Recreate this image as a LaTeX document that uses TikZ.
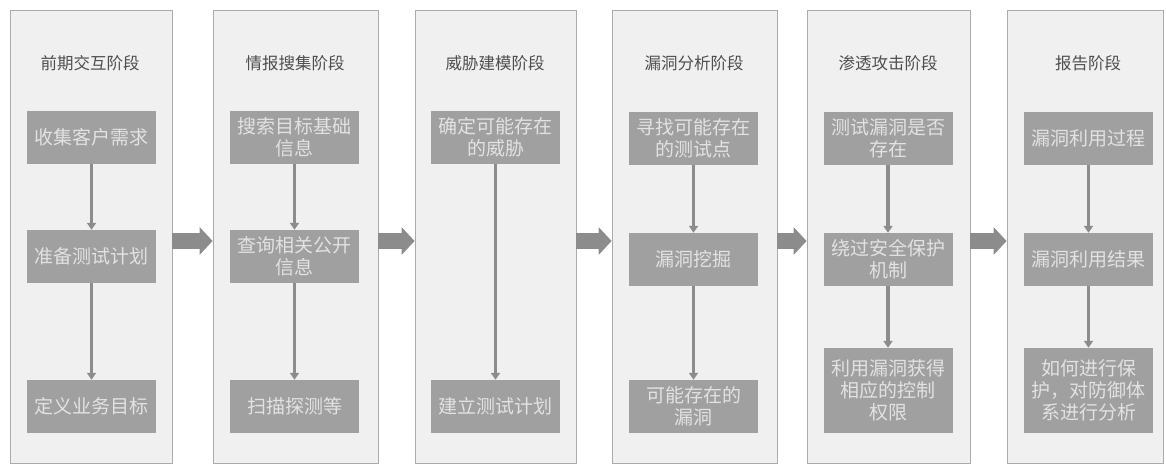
\documentclass[tikz,border=0pt]{standalone}
\usepackage{fontspec}
\newfontfamily\cjk{Noto Sans CJK SC}
\usetikzlibrary{arrows.meta}
\definecolor{panelfill}{HTML}{F0F0F0}
\definecolor{panelline}{HTML}{ABABAB}
\definecolor{boxfill}{HTML}{A0A0A0}
\definecolor{boxtext}{HTML}{E2E2E2}
\definecolor{titletext}{HTML}{4E4E4E}
\definecolor{arrowgray}{HTML}{8C8C8C}
\begin{document}
\begin{tikzpicture}[x=1pt,y=-1pt,
  panel/.style={draw=panelline,fill=panelfill,line width=0.8pt,minimum height=453pt,inner sep=0pt},
  stagetitle/.style={text=titletext,font=\cjk\fontsize{16.5}{18}\selectfont,inner sep=0pt},
  stepbox/.style={fill=boxfill,text=boxtext,font=\cjk\fontsize{19}{22}\selectfont,align=center,minimum width=129pt,minimum height=53pt,inner sep=0pt},
  tallbox/.style={stepbox,minimum height=85pt},
  smallarrow/.style={draw=arrowgray,line width=3.5pt,-{Triangle[width=9pt,length=7pt]}},
  bigarrow/.style={draw=arrowgray,line width=16pt,-{Triangle[width=27pt,length=13pt]}}
]
\useasboundingbox[fill=white] (0,0) rectangle (1166,467);
% panels
\node[panel,minimum width=162pt] (p1) at (91,236.5) {};
\node[panel,minimum width=165pt] (p2) at (295.5,236.5) {};
\node[panel,minimum width=161pt] (p3) at (495.5,236.5) {};
\node[panel,minimum width=165pt] (p4) at (694.5,236.5) {};
\node[panel,minimum width=163pt] (p5) at (888.5,236.5) {};
\node[panel,minimum width=156pt] (p6) at (1085,236.5) {};
% titles
\node[stagetitle] (t1) at (90,63) {前期交互阶段};
\node[stagetitle] (t2) at (295,63) {情报搜集阶段};
\node[stagetitle] (t3) at (495,63) {威胁建模阶段};
\node[stagetitle] (t4) at (694,63) {漏洞分析阶段};
\node[stagetitle] (t5) at (888,63) {渗透攻击阶段};
\node[stagetitle] (t6) at (1088,63) {报告阶段};
% stage 1
\node[stepbox] (a1) at (91.5,137.5) {收集客户需求};
\node[stepbox] (a2) at (91.5,256.5) {准备测试计划};
\node[stepbox] (a3) at (91.5,406.5) {定义业务目标};
% stage 2
\node[stepbox] (b1) at (294.5,137.5) {搜索目标基础\\信息};
\node[stepbox] (b2) at (294.5,256.5) {查询相关公开\\信息};
\node[stepbox] (b3) at (294.5,406.5) {扫描探测等};
% stage 3
\node[stepbox] (c1) at (495.5,137.5) {确定可能存在\\的威胁};
\node[stepbox] (c2) at (495.5,406.5) {建立测试计划};
% stage 4
\node[stepbox] (d1) at (693.5,138) {寻找可能存在\\的测试点};
\node[stepbox] (d2) at (693.5,259.5) {漏洞挖掘};
\node[stepbox] (d3) at (693.5,406.5) {可能存在的\\漏洞};
% stage 5
\node[stepbox] (e1) at (888,138) {测试漏洞是否\\存在};
\node[stepbox] (e2) at (888,259.5) {绕过安全保护\\机制};
\node[tallbox] (e3) at (888,390.5) {利用漏洞获得\\相应的控制\\权限};
% stage 6
\node[stepbox] (f1) at (1088.5,138) {漏洞利用过程};
\node[stepbox] (f2) at (1088.5,259.5) {漏洞利用结果};
\node[tallbox] (f3) at (1088.5,390.5) {如何进行保\\护，对防御体\\系进行分析};
% small arrows
\draw[smallarrow] (a1) -- (a2);
\draw[smallarrow] (a2) -- (a3);
\draw[smallarrow] (b1) -- (b2);
\draw[smallarrow] (b2) -- (b3);
\draw[smallarrow] (c1) -- (c2);
\draw[smallarrow] (d1) -- (d2);
\draw[smallarrow] (d2) -- (d3);
\draw[smallarrow] (e1) -- (e2);
\draw[smallarrow] (e2) -- (e3);
\draw[smallarrow] (f1) -- (f2);
\draw[smallarrow] (f2) -- (f3);
% big arrows between stages
\draw[bigarrow] ([yshift=-4.5pt]p1.east) -- ([yshift=-4.5pt]p2.west);
\draw[bigarrow] ([yshift=-4.5pt]p2.east) -- ([yshift=-4.5pt]p3.west);
\draw[bigarrow] ([yshift=-4.5pt]p3.east) -- ([yshift=-4.5pt]p4.west);
\draw[bigarrow] ([yshift=-4.5pt]p4.east) -- ([yshift=-4.5pt]p5.west);
\draw[bigarrow] ([yshift=-4.5pt]p5.east) -- ([yshift=-4.5pt]p6.west);
\end{tikzpicture}
\end{document}
